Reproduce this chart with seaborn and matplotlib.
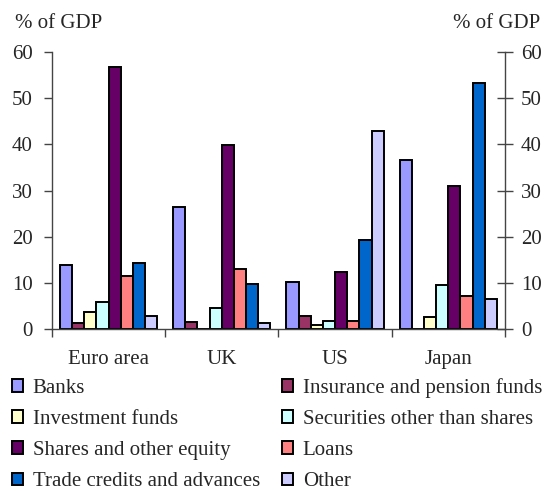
import numpy as np
import pandas as pd
import matplotlib
matplotlib.use("Agg")
import matplotlib.pyplot as plt
from matplotlib.ticker import FixedLocator
import seaborn as sns

# ------------------------------------------------------------
# data (% of GDP)
# ------------------------------------------------------------
regions = ["Euro area", "UK", "US", "Japan"]
instruments = ["Banks", "Insurance and pension funds", "Investment funds",
               "Securities other than shares", "Shares and other equity",
               "Loans", "Trade credits and advances", "Other"]

banks = [13.9, 26.5, 10.2, 36.7]
insurance = [1.3, 1.6, 2.9, 0.0]
investment = [3.7, 0.0, 0.9, 2.5]
securities = [5.8, 4.5, 1.7, 9.5]
shares = [56.7, 39.9, 12.3, 31.0]
loans = [11.5, 13.1, 1.7, 7.1]
trade = [14.2, 9.7, 19.3, 53.4]
other = [2.9, 1.3, 42.8, 6.6]

colors = ["#9999FF", "#993366", "#FFFFCC", "#CCFFFF",
          "#660066", "#FF8080", "#0066CC", "#CCCCFF"]

series = [banks, insurance, investment, securities, shares, loans, trade, other]
df = pd.DataFrame({
    "region": np.tile(regions, len(instruments)),
    "instrument": np.repeat(instruments, len(regions)),
    "value": np.concatenate(series),
})

# ------------------------------------------------------------
# plot
# ------------------------------------------------------------
sns.set_style("white")
serif = ["Liberation Serif", "DejaVu Serif"]
plt.rcParams["font.family"] = serif
fs = 15

fig = plt.figure(figsize=(5.47, 4.91), dpi=100)
ax = fig.add_axes([0.095, 0.330, 0.828, 0.564])

sns.barplot(data=df, x="region", y="value", hue="instrument",
            hue_order=instruments, order=regions, palette=colors,
            width=0.86, gap=0, edgecolor="black", linewidth=1.4,
            saturation=1, ax=ax, legend=True)

ax.set_xlim(-0.5, 3.5)
ax.set_ylim(0, 60)
ax.set_yticks(range(0, 61, 10))
ax.set_xlabel("")
ax.set_ylabel("")

for s in ["top", "right"]:
    ax.spines[s].set_visible(False)
for s in ["left", "bottom"]:
    ax.spines[s].set_color("#444444")
    ax.spines[s].set_linewidth(1.0)

ax.tick_params(axis="y", direction="out", length=6, width=1, color="#444444",
               labelsize=fs, pad=8, left=True)
ax.tick_params(axis="x", which="major", length=0, labelsize=fs, pad=15.5)
ax.xaxis.set_minor_locator(FixedLocator(np.arange(-0.5, 3.6, 1)))
ax.tick_params(axis="x", which="minor", direction="out", length=6, width=1,
               color="#444444", bottom=True)

# right axis, same scale
ax2 = ax.twinx()
ax2.set_ylim(ax.get_ylim())
ax2.set_yticks(range(0, 61, 10))
for s in ["top", "left", "bottom"]:
    ax2.spines[s].set_visible(False)
ax2.spines["right"].set_color("#444444")
ax2.spines["right"].set_linewidth(1.0)
ax2.tick_params(axis="y", direction="inout", length=11, width=1,
                color="#444444", labelsize=fs, pad=6, right=True)
ax2.grid(False)

fig.text(0.027, 0.953, "% of GDP", fontsize=fs, ha="left", va="center")
fig.text(0.988, 0.953, "% of GDP", fontsize=fs, ha="right", va="center")

# legend below, 2 columns filled row-wise
handles, labels = ax.get_legend_handles_labels()
ax.get_legend().remove()
order = [0, 2, 4, 6, 1, 3, 5, 7]
fig.legend([handles[i] for i in order], [labels[i] for i in order],
           ncol=2, loc="upper left", bbox_to_anchor=(0.022, 0.23),
           frameon=False, prop={"family": serif, "size": fs},
           handlelength=0.55, handleheight=0.55,
           handletextpad=0.45, columnspacing=1.05, labelspacing=0.58,
           borderaxespad=0, borderpad=0)

fig.savefig("out.png", dpi=100)
